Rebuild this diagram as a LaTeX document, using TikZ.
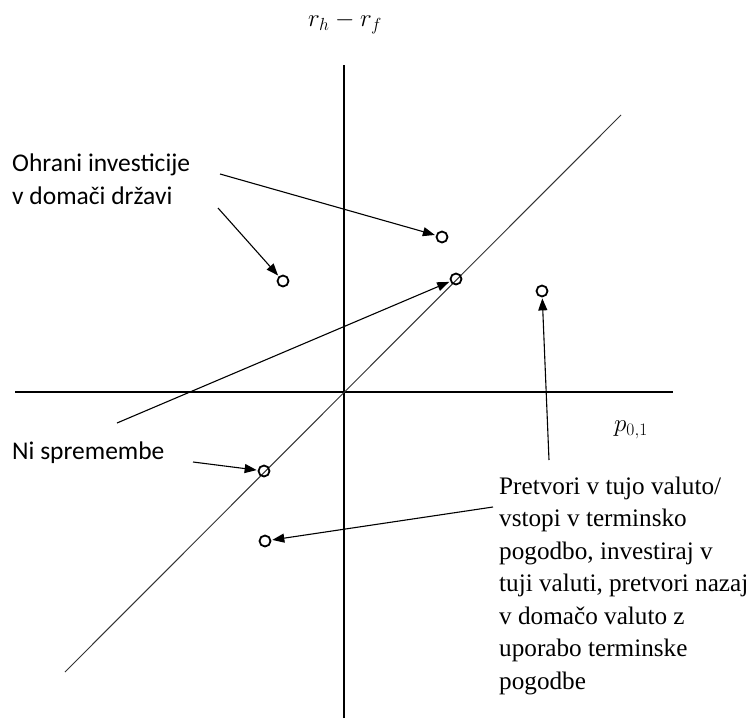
\RequirePackage{fix-cm}
\documentclass[tikz,border=0pt]{standalone}
\usepackage{fontspec}
\setmainfont{Liberation Serif}
\newfontfamily\calibrifont{Carlito}
\usetikzlibrary{arrows.meta}

\begin{document}
\begin{tikzpicture}[x=1pt, y=-1pt,
    axis/.style={line width=2pt, black},
    diag/.style={line width=1pt, black!80},
    spot/.style={circle, draw, line width=1.8pt, minimum size=11pt, inner sep=0pt},
    pointer/.style={-{Triangle[length=12pt,width=9pt]}, line width=1.1pt, shorten >=1pt},
    sanslbl/.style={font=\calibrifont\fontsize{25.5}{33}\selectfont, align=left, inner sep=0pt},
    seriflbl/.style={font=\fontsize{25.2}{32.5}\selectfont, align=left, inner sep=0pt},
    mathlbl/.style={font=\fontsize{25}{30}\selectfont, inner sep=0pt}
]
    \useasboundingbox (0,0) rectangle (753,720);

    % axes
    \coordinate (ytop) at (344,65);
    \coordinate (ybot) at (344,718);
    \coordinate (xleft) at (15,392);
    \coordinate (xright) at (673,392);
    \coordinate (dlow) at (65,672);
    \coordinate (dhigh) at (621,115);
    \draw[axis] (ybot) -- (ytop);
    \draw[axis] (xleft) -- (xright);
    \draw[diag] (dlow) -- (dhigh);

    \node[mathlbl, anchor=base] (ylabel) at (345,27) {$r_h - r_f$};
    \node[mathlbl] (xlabel) at (631,430) {$p_{0,1}$};

    % points
    \node[spot] (c1) at (442,237) {};
    \node[spot] (c2) at (456,279) {};
    \node[spot] (c3) at (283,281) {};
    \node[spot] (c4) at (542,291) {};
    \node[spot] (c5) at (264,471) {};
    \node[spot] (c6) at (265,541) {};

    % labels
    \node[sanslbl, anchor=base west] (keep) at (12,204) {Ohrani investicije\\v domači državi};
    \node[sanslbl, anchor=base west] (same) at (12,459) {Ni spremembe};
    \node[seriflbl, anchor=base west] (convert) at (499,689) {Pretvori v tujo valuto/\\vstopi v terminsko\\pogodbo, investiraj v\\tuji valuti, pretvori nazaj\\v domačo valuto z\\uporabo terminske\\pogodbe};

    % arrows
    \coordinate (s1) at (220,174);
    \coordinate (s2) at (218,208);
    \coordinate (s3) at (117,423);
    \coordinate (s4) at (193,462);
    \coordinate (s5) at (549,460);
    \coordinate (s6) at (493,507);
    \draw[pointer] (s1) -- (c1);
    \draw[pointer] (s2) -- (c3);
    \draw[pointer] (s3) -- (c2);
    \draw[pointer] (s4) -- (c5);
    \draw[pointer] (s5) -- (c4);
    \draw[pointer] (s6) -- (c6);
\end{tikzpicture}
\end{document}
